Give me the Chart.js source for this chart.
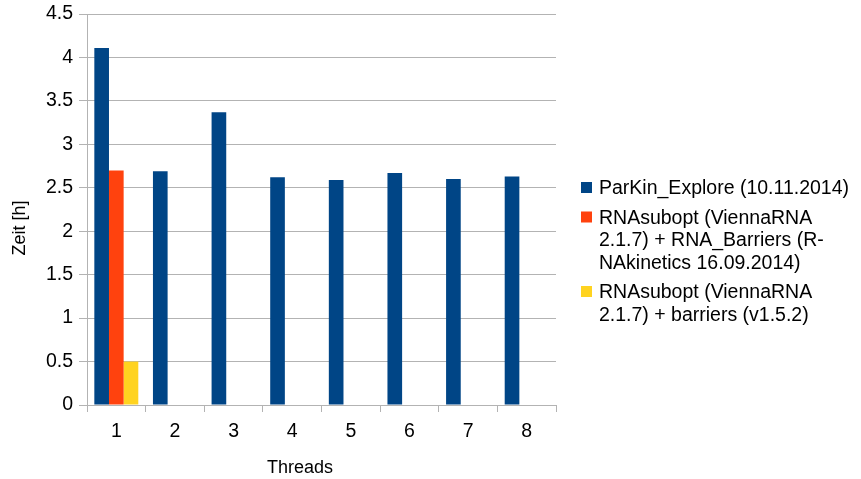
<!DOCTYPE html>
<html>
<head>
<meta charset="utf-8">
<script src="https://cdn.jsdelivr.net/npm/chart.js@4/dist/chart.umd.min.js"></script>
<style>
  html, body { margin: 0; padding: 0; background: #ffffff; }
  #wrap { width: 861px; height: 479px; }
</style>
</head>
<body>
<div id="wrap"><canvas id="c" width="861" height="479"></canvas></div>
<script>
// Thread counts on the x axis
const threads = ['1', '2', '3', '4', '5', '6', '7', '8'];

// Run time in hours per thread count
const parkinExplore = [4.11, 2.69, 3.37, 2.62, 2.59, 2.67, 2.60, 2.63];
const rnaBarriers   = [2.70, null, null, null, null, null, null, null];
const barriersV152  = [0.50, null, null, null, null, null, null, null];

// Series names, and how they break over lines in the legend
const seriesNames = [
  'ParKin_Explore (10.11.2014)',
  'RNAsubopt (ViennaRNA 2.1.7) + RNA_Barriers (RNAkinetics 16.09.2014)',
  'RNAsubopt (ViennaRNA 2.1.7) + barriers (v1.5.2)'
];
const legendLines = [
  ['ParKin_Explore (10.11.2014)'],
  ['RNAsubopt (ViennaRNA', '2.1.7) + RNA_Barriers (R-', 'NAkinetics 16.09.2014)'],
  ['RNAsubopt (ViennaRNA', '2.1.7) + barriers (v1.5.2)']
];
const seriesColors = ['#004586', '#ff420e', '#ffd320'];

const yTitle = 'Zeit [h]';
const xTitle = 'Threads';

const FONT = '"Liberation Sans", Arial, sans-serif';
const GRID = '#b3b3b3';
const LABEL_SIZE = 19.5;

// Legend on the right with wrapped series names
const sideLegend = {
  id: 'sideLegend',
  afterDraw(chart) {
    const ctx = chart.ctx;
    ctx.save();
    ctx.font = LABEL_SIZE + 'px ' + FONT;
    ctx.textAlign = 'left';
    ctx.textBaseline = 'alphabetic';
    let y = 194;
    chart.data.datasets.forEach((ds, i) => {
      ctx.fillStyle = ds.backgroundColor;
      ctx.fillRect(581, y - 12, 11, 11);
      ctx.fillStyle = '#000000';
      legendLines[i].forEach((line) => {
        ctx.fillText(line, 599, y);
        y += 22.5;
      });
      y += 7;
    });
    ctx.restore();
  }
};

// Axis titles
const axisTitles = {
  id: 'axisTitles',
  afterDraw(chart) {
    const ctx = chart.ctx;
    ctx.save();
    ctx.font = '18px ' + FONT;
    ctx.fillStyle = '#000000';
    ctx.textAlign = 'center';
    ctx.textBaseline = 'middle';
    ctx.fillText(xTitle, 300, 468);
    ctx.translate(20, 228);
    ctx.rotate(-Math.PI / 2);
    ctx.fillText(yTitle, 0, 0);
    ctx.restore();
  }
};

new Chart(document.getElementById('c'), {
  type: 'bar',
  data: {
    labels: threads,
    datasets: [
      { label: seriesNames[0], data: parkinExplore, backgroundColor: seriesColors[0] },
      { label: seriesNames[1], data: rnaBarriers,   backgroundColor: seriesColors[1] },
      { label: seriesNames[2], data: barriersV152,  backgroundColor: seriesColors[2] }
    ]
  },
  options: {
    responsive: false,
    animation: false,
    devicePixelRatio: 1,
    layout: { padding: { left: 0, top: 14, right: 305, bottom: 0 } },
    datasets: {
      bar: { categoryPercentage: 0.75, barPercentage: 1.0, borderWidth: 0 }
    },
    plugins: {
      legend: { display: false },
      tooltip: { enabled: false }
    },
    scales: {
      x: {
        offset: true,
        afterFit(scale) {
          scale.height = 74;
          scale.paddingLeft = 0;
          scale.paddingRight = 0;
        },
        grid: {
          offset: true,
          drawOnChartArea: true,
          color: (c) => (c.index === 0 || c.index === threads.length) ? GRID : 'rgba(0,0,0,0)',
          tickColor: GRID,
          tickLength: 7,
          lineWidth: 1
        },
        border: { display: true, color: GRID, width: 1 },
        ticks: {
          color: '#000000',
          font: { family: FONT, size: LABEL_SIZE },
          padding: 8,
          maxRotation: 0
        }
      },
      y: {
        min: 0,
        max: 4.5,
        afterFit(scale) {
          scale.width = 87;
          scale.paddingTop = 0;
          scale.paddingBottom = 0;
        },
        grid: { color: GRID, tickColor: GRID, tickLength: 8, lineWidth: 1 },
        border: { display: true, color: GRID, width: 1 },
        ticks: {
          stepSize: 0.5,
          color: '#000000',
          font: { family: FONT, size: LABEL_SIZE },
          padding: 6,
          callback: (v) => String(Math.round(v * 10) / 10)
        }
      }
    }
  },
  plugins: [sideLegend, axisTitles]
});
</script>
</body>
</html>
